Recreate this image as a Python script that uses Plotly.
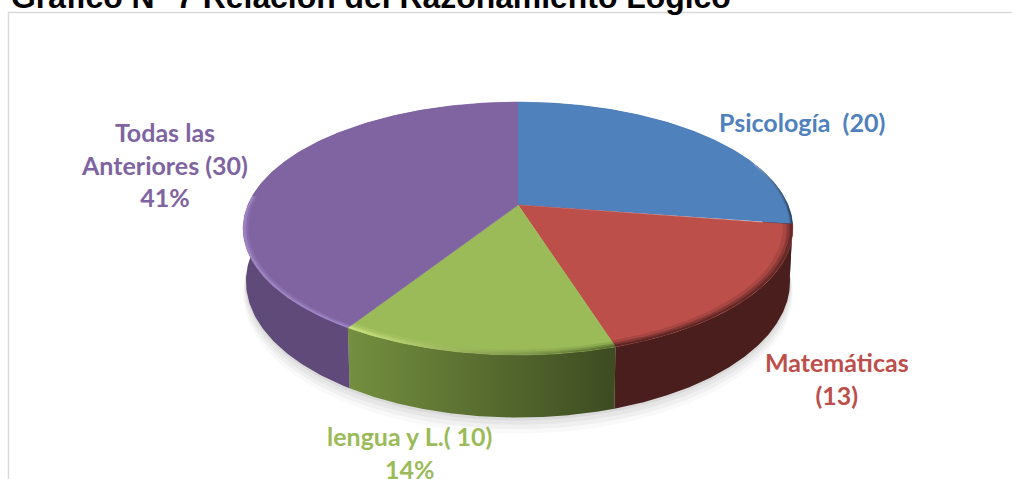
"""Gráfico N° 7: 3D-look pie drawn from the values with filled scatter polygons."""

import numpy as np
import plotly.graph_objects as go

categories = ["Psicología", "Matemáticas", "lengua y L.", "Todas las Anteriores"]
values = [20, 13, 10, 30]
top_colors = ["#4f81bd", "#bd4f4b", "#9bbb59", "#8064a2"]
side_left = ["#2c4a70", "#4a1e1c", "#748f3f", "#5e4a78"]
side_right = ["#24405f", "#4a1e1c", "#3d4c21", "#644b80"]
label_texts = ["Psicología  (20)", "Matemáticas<br>(13)", "lengua y L.( 10)<br>14%",
               "Todas las<br>Anteriores (30)<br>41%"]
title_text = "Gráfico N° 7 Relación del Razonamiento Lógico"

# rim bevel per slice: part of the slice that shows it, width and left/right colours
rim_spans = [(0.7, 1.0), (0.0, 1.0), (0.0, 1.0), (0.0, 0.42)]
rim_width = [0.012, 0.035, 0.03, 0.018]
rim_left = ["#8aa8cc", "#4a1e1c", "#d2ea84", "#a68ccb"]
rim_right = ["#1f2f45", "#5a2422", "#4d6228", "#a68ccb"]

# pie geometry, in page pixels
CX, CY = 518, 205
A, B, P = 270, 122, 0.186
DEPTH = 51
TAPER = 0.99


def project(theta, r=1.0, drop=0.0):
    """Perspective view of a point on the pie disc, theta clockwise from the top."""
    u, v = r * np.sin(theta), r * np.cos(theta)
    w = 1 + P * v
    shrink = 1 - (1 - TAPER) * drop / DEPTH
    return CX + shrink * A * u / w, CY - B * v / w + drop / w


def arc(start, end, r=1.0, drop=0.0):
    return project(np.linspace(start, end, 200), r, drop)


def polygon(x, y, color=None, scale=None, opacity=1.0, edge=0):
    trace = dict(x=x, y=y, mode="lines", line=dict(width=edge, color=color), fill="toself",
                 opacity=opacity, hoverinfo="skip", showlegend=False)
    if scale:
        trace["fillgradient"] = dict(type="horizontal", colorscale=[[0, scale[0]], [1, scale[1]]])
    else:
        trace["fillcolor"] = color
    return go.Scatter(**trace)


fractions = np.cumsum([0] + values) / sum(values)
angles = 2 * np.pi * fractions

fig = go.Figure()

# soft shadow under the disc
for grow, alpha in [(11, 0.05), (8, 0.07), (5, 0.09), (2, 0.12)]:
    x, y = arc(np.pi * 0.45, np.pi * 1.55, 1.0 + grow / 900, DEPTH + grow)
    fig.add_trace(polygon(x, y, color="#808080", opacity=alpha))

# side walls
for i in range(len(values)):
    x0, y0 = arc(angles[i], angles[i + 1])
    x1, y1 = arc(angles[i], angles[i + 1], drop=DEPTH)
    fig.add_trace(polygon(np.r_[x0, x1[::-1]], np.r_[y0, y1[::-1]],
                          scale=(side_left[i], side_right[i])))

# top surface
for i in range(len(values)):
    x, y = arc(angles[i], angles[i + 1])
    fig.add_trace(polygon(np.r_[CX, x], np.r_[CY, y], color=top_colors[i], edge=0.7))

# bevel along the rim
for i in range(len(values)):
    sweep = angles[i + 1] - angles[i]
    start = angles[i] + sweep * rim_spans[i][0]
    end = angles[i] + sweep * rim_spans[i][1]
    for part, alpha in [(1.0, 0.2), (0.6, 0.4), (0.3, 0.7)]:
        x0, y0 = arc(start, end, 1 - rim_width[i] * part)
        x1, y1 = arc(start, end)
        fig.add_trace(polygon(np.r_[x0, x1[::-1]], np.r_[y0, y1[::-1]],
                              scale=(rim_left[i], rim_right[i]), opacity=alpha))

# frame lines of the chart area
fig.add_shape(type="line", x0=8.5, x1=8.5, y0=12.5, y1=479, line=dict(color="#d9d9d9", width=1.5))
fig.add_shape(type="line", x0=8, x1=1012, y0=12.5, y1=12.5, line=dict(color="#d9d9d9", width=1.5))

fig.add_annotation(x=9, xref="x", y=1, yref="paper", yshift=3, text=f"<b>{title_text}</b>",
                   showarrow=False, xanchor="left", yanchor="middle",
                   font=dict(family="Liberation Sans", size=31.9, color="#000000"))

label_pos = [(802, 122), (837, 378), (409, 452), (164, 164.5)]
for text, color, (lx, ly) in zip(label_texts, top_colors, label_pos):
    fig.add_annotation(x=lx, y=ly, text=f"<b>{text}</b>", showarrow=False, align="center",
                       font=dict(family="Lato", size=25, color=color))

fig.update_xaxes(range=[0, 1012], visible=False, fixedrange=True)
fig.update_yaxes(range=[479, 0], visible=False, fixedrange=True)
fig.update_layout(width=1012, height=479, margin=dict(l=0, r=0, t=0, b=0),
                  paper_bgcolor="white", plot_bgcolor="white", showlegend=False)

fig.write_html("out.html", config=dict(displayModeBar=False),
               post_script="document.body.style.margin='0';")
